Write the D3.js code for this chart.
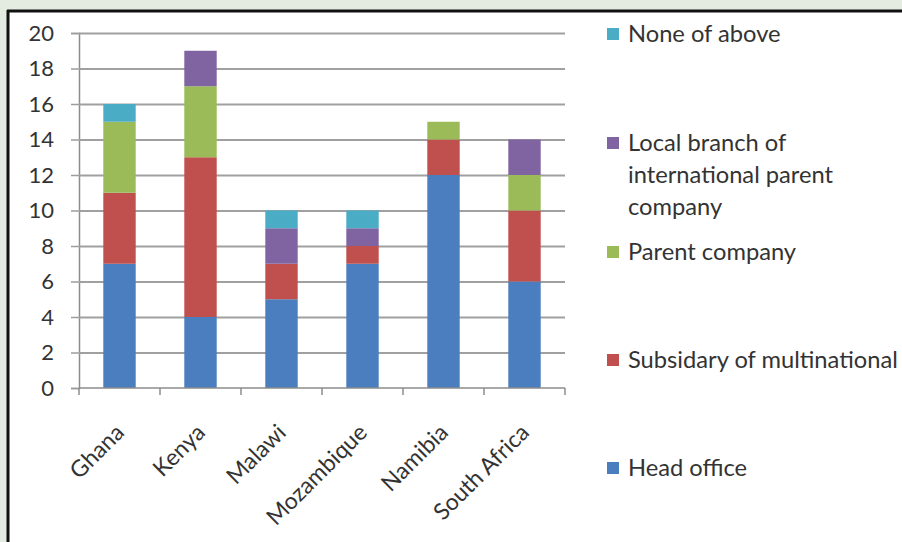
<!DOCTYPE html>
<html>
<head>
<meta charset="utf-8">
<script src="https://cdn.jsdelivr.net/npm/d3@7"></script>
<style>
  html, body { margin: 0; padding: 0; background: #e4ece2; }
  svg { display: block; }
  text { font-family: Lato, "Open Sans", sans-serif; fill: #333333; }
</style>
</head>
<body>
<svg id="chart" width="902" height="542"></svg>
<script>
// Countries along the x axis
const countries = ["Ghana", "Kenya", "Malawi", "Mozambique", "Namibia", "South Africa"];

// Series, stacked bottom to top
const headOffice   = [7, 4, 5, 7, 12, 6];
const subsidiary   = [4, 9, 2, 1, 2, 4];
const parentCo     = [4, 4, 0, 0, 1, 2];
const localBranch  = [0, 2, 2, 1, 0, 2];
const noneOfAbove  = [1, 0, 1, 1, 0, 0];

const seriesNames = [
  "Head office",
  "Subsidary of multinational",
  "Parent company",
  "Local branch of international parent company",
  "None of above"
];
const seriesColors = ["#4a7ebf", "#c0504d", "#9bbb59", "#8064a2", "#4bacc6"];

// Y axis tick values
const yTicks = [0, 2, 4, 6, 8, 10, 12, 14, 16, 18, 20];

// Build rows for d3.stack
const seriesValues = [headOffice, subsidiary, parentCo, localBranch, noneOfAbove];
const rows = countries.map((c, i) => {
  const r = { country: c };
  seriesNames.forEach((s, k) => { r[s] = seriesValues[k][i]; });
  return r;
});
const stacked = d3.stack().keys(seriesNames)(rows);

const svg = d3.select("#chart");
const FONT = "Lato, 'Open Sans', sans-serif";

// Chart panel with dark frame on top and left
svg.append("rect").attr("x", 8).attr("y", 11).attr("width", 894).attr("height", 531).attr("fill", "#ffffff");
svg.append("line").attr("x1", 7).attr("x2", 902).attr("y1", 11).attr("y2", 11)
  .attr("stroke", "#111").attr("stroke-width", 3);
svg.append("line").attr("x1", 8).attr("x2", 8).attr("y1", 10).attr("y2", 542)
  .attr("stroke", "#111").attr("stroke-width", 3);

const plot = { left: 79, right: 565, top: 33, bottom: 388 };

const x = d3.scaleBand().domain(countries).range([plot.left, plot.right])
  .paddingInner(0.6).paddingOuter(0.3);
const y = d3.scaleLinear().domain([0, 20]).range([plot.bottom, plot.top]);
const color = d3.scaleOrdinal().domain(seriesNames).range(seriesColors);

// Gridlines and y axis
const yAxis = d3.axisLeft(y).tickValues(yTicks).tickSize(8).tickPadding(17)
  .tickFormat(d3.format("d"));
const yG = svg.append("g").attr("transform", `translate(${plot.left},0)`).call(yAxis);
yG.select(".domain").attr("stroke", "#8c8c8c").attr("stroke-width", 1.5);
yG.selectAll(".tick line").attr("stroke", "#9c9c9c").attr("stroke-width", 1.5);
yG.selectAll(".tick text").style("font-size", "22px").attr("fill", "#333333")
  .style("font-family", FONT);
yG.selectAll(".tick").filter(d => d > 0).append("line")
  .attr("x1", 0).attr("x2", plot.right - plot.left)
  .attr("stroke", "#a0a0a0").attr("stroke-width", 1.8);

// Bars
svg.append("g").selectAll("g").data(stacked).join("g")
  .attr("fill", d => color(d.key))
  .selectAll("rect").data(d => d.filter(p => p[1] > p[0])).join("rect")
  .attr("x", d => x(d.data.country))
  .attr("width", x.bandwidth())
  .attr("y", d => y(d[1]))
  .attr("height", d => y(d[0]) - y(d[1]));

// X axis with ticks at category boundaries
const xAxis = d3.axisBottom(x).tickSize(0).tickPadding(0);
const xG = svg.append("g").attr("transform", `translate(0,${plot.bottom})`).call(xAxis);
xG.select(".domain").remove();
xG.selectAll(".tick text")
  .attr("text-anchor", "end")
  .attr("dy", null)
  .attr("transform", "translate(6,46) rotate(-45)")
  .attr("y", 0).attr("x", 0)
  .style("font-size", "23px").attr("fill", "#333333")
  .style("font-family", FONT);
svg.append("line").attr("x1", plot.left).attr("x2", plot.right)
  .attr("y1", plot.bottom).attr("y2", plot.bottom)
  .attr("stroke", "#8c8c8c").attr("stroke-width", 1.5);
const step = x.step();
const boundaries = d3.range(countries.length + 1).map(i => plot.left + i * step);
svg.append("g").selectAll("line").data(boundaries).join("line")
  .attr("x1", d => d).attr("x2", d => d)
  .attr("y1", plot.bottom).attr("y2", plot.bottom + 7)
  .attr("stroke", "#8c8c8c").attr("stroke-width", 1.5);

// Legend, top entry is the top of the stack
const legendLines = [
  ["None of above"],
  ["Local branch of", "international parent", "company"],
  ["Parent company"],
  ["Subsidary of multinational"],
  ["Head office"]
];
const legendKeys = seriesNames.slice().reverse();
const legendY = [34, 143, 252, 360, 468];
const lineGap = 32;
const legend = svg.append("g");
legendKeys.forEach((k, i) => {
  const g = legend.append("g").attr("transform", `translate(607,${legendY[i]})`);
  g.append("rect").attr("x", 0).attr("y", -6).attr("width", 12).attr("height", 12)
    .attr("fill", color(k));
  const t = g.append("text").attr("x", 21).attr("y", 0).style("font-size", "23.7px");
  legendLines[i].forEach((ln, j) => {
    t.append("tspan").attr("x", 21).attr("y", j * lineGap).attr("dy", "0.35em").text(ln);
  });
});
</script>
</body>
</html>
